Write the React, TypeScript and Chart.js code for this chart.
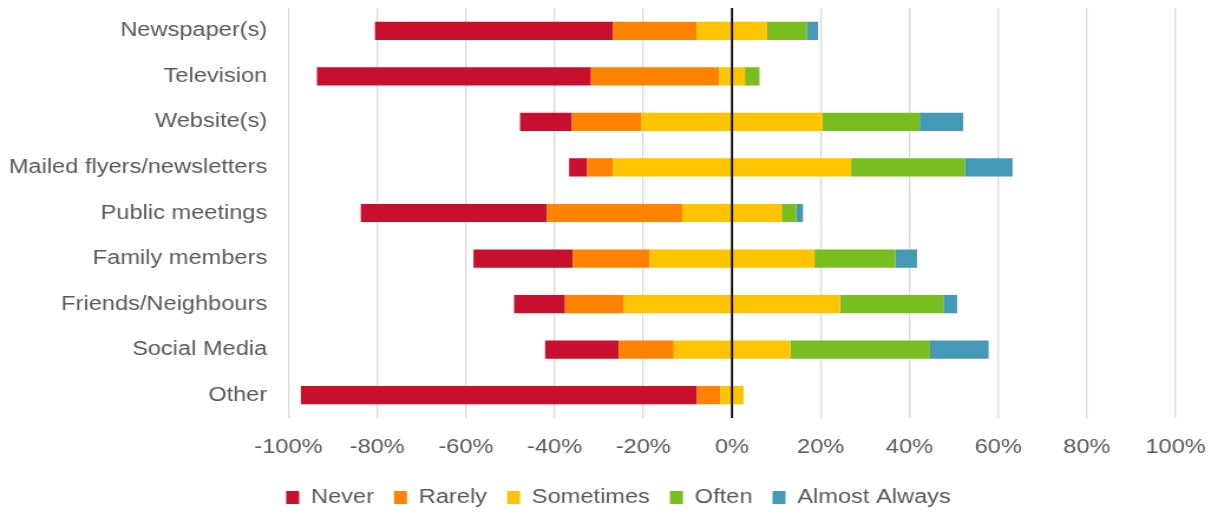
import React, { useEffect, useRef } from "react";
import { Chart, registerables } from "chart.js";

Chart.register(...registerables);

const categories = [
  "Newspaper(s)",
  "Television",
  "Website(s)",
  "Mailed flyers/newsletters",
  "Public meetings",
  "Family members",
  "Friends/Neighbours",
  "Social Media",
  "Other",
];

const never = [53.7, 61.8, 11.7, 4.1, 42.0, 22.4, 11.5, 16.6, 89.3];
const rarely = [18.9, 28.9, 15.7, 5.8, 30.5, 17.3, 13.3, 12.4, 5.3];
const sometimes = [15.8, 5.8, 40.8, 53.7, 22.4, 37.2, 48.7, 26.3, 5.2];
const often = [9.0, 3.3, 21.9, 25.7, 3.3, 18.2, 23.3, 31.5, 0];
const almostAlways = [2.5, 0, 9.8, 10.7, 1.5, 4.9, 3.1, 13.2, 0];

const xTicks = [-100, -80, -60, -40, -20, 0, 20, 40, 60, 80, 100];

const COLORS = {
  never: "#C8102E",
  rarely: "#FF8200",
  sometimes: "#FFC400",
  often: "#78BE21",
  almostAlways: "#4499B7",
};

const TEXT = "#595959";
const FONT = "'Liberation Sans', Arial, sans-serif";

// the reference text is horizontally wider; draw at a narrower internal width and stretch
const OUT_W = 1211;
const OUT_H = 514;
const STRETCH = 1.18;
const IN_W = Math.round(OUT_W / STRETCH);
const LEGEND_SHIFT = 26;

const zeroLine = {
  id: "zeroLine",
  afterDatasetsDraw(chart: any) {
    const xs = chart.scales.x;
    const area = chart.chartArea;
    const x = xs.getPixelForValue(0);
    const ctx = chart.ctx;
    ctx.save();
    ctx.strokeStyle = "#000000";
    ctx.lineWidth = 1.8;
    ctx.beginPath();
    ctx.moveTo(x, area.top);
    ctx.lineTo(x, area.bottom);
    ctx.stroke();
    ctx.restore();
  },
};

const legendShift = {
  id: "legendShift",
  afterLayout(chart: any) {
    if (chart.legend) {
      chart.legend.left += LEGEND_SHIFT;
      chart.legend.right += LEGEND_SHIFT;
    }
  },
};

export default function App() {
  const ref = useRef<HTMLCanvasElement | null>(null);

  useEffect(() => {
    if (!ref.current) return;
    const neg = (a: number[]) => a.map((v) => -v);
    const half = (a: number[]) => a.map((v) => v / 2);
    const legendOrder = ["Never", "Rarely", "Sometimes", "Often", "Almost Always"];
    const common = {
      borderWidth: 0,
      barPercentage: 0.4,
      categoryPercentage: 1,
      stack: "s",
    };
    const chart = new Chart(ref.current, {
      type: "bar",
      data: {
        labels: categories,
        datasets: [
          { label: "Sometimes", data: neg(half(sometimes)), backgroundColor: COLORS.sometimes, ...common },
          { label: "Rarely", data: neg(rarely), backgroundColor: COLORS.rarely, ...common },
          { label: "Never", data: neg(never), backgroundColor: COLORS.never, ...common },
          { label: "Sometimes ", data: half(sometimes), backgroundColor: COLORS.sometimes, ...common },
          { label: "Often", data: often, backgroundColor: COLORS.often, ...common },
          { label: "Almost Always", data: almostAlways, backgroundColor: COLORS.almostAlways, ...common },
        ] as any,
      },
      options: {
        indexAxis: "y",
        animation: false,
        responsive: false,
        maintainAspectRatio: false,
        devicePixelRatio: 1,
        layout: { padding: { left: 0, right: 30, top: 8, bottom: -3.5 } },
        font: { family: FONT },
        scales: {
          x: {
            type: "linear",
            min: -100,
            max: 100,
            stacked: true,
            afterBuildTicks: (scale: any) => {
              scale.ticks = xTicks.map((v) => ({ value: v }));
            },
            afterFit: (scale: any) => {
              scale.height = 52.5;
              scale.paddingLeft = 0;
              scale.paddingRight = 0;
            },
            ticks: {
              color: TEXT,
              font: { family: FONT, size: 20 },
              padding: 17.5,
              callback: (v: any) => `${v}%`,
            },
            grid: {
              drawTicks: false,
              color: (c: any) => (c.tick && c.tick.value === 0 ? "rgba(0,0,0,0)" : "#d9d9d9"),
              lineWidth: 1.3,
            },
            border: { display: false },
          },
          y: {
            type: "category",
            stacked: true,
            afterFit: (scale: any) => {
              scale.width = 244.4;
              scale.paddingTop = 0;
              scale.paddingBottom = 0;
            },
            ticks: {
              color: TEXT,
              font: { family: FONT, size: 20 },
              padding: 18,
            },
            grid: { display: false, drawTicks: false },
            border: { display: false },
          },
        },
        plugins: {
          tooltip: { enabled: false },
          legend: {
            position: "bottom",
            labels: {
              color: TEXT,
              font: { family: FONT, size: 20 },
              boxWidth: 11,
              boxHeight: 13,
              padding: 17,
              filter: (item: any) => item.text !== "Sometimes ",
              sort: (a: any, b: any) => legendOrder.indexOf(a.text) - legendOrder.indexOf(b.text),
            },
          },
        },
      } as any,
      plugins: [zeroLine, legendShift],
    });
    return () => chart.destroy();
  }, []);

  return (
    <div style={{ position: "fixed", left: 0, top: 0, width: OUT_W, height: OUT_H, background: "#fff" }}>
      <canvas
        ref={ref}
        width={IN_W}
        height={OUT_H}
        style={{ display: "block", width: OUT_W + "px", height: OUT_H + "px" }}
      />
    </div>
  );
}
